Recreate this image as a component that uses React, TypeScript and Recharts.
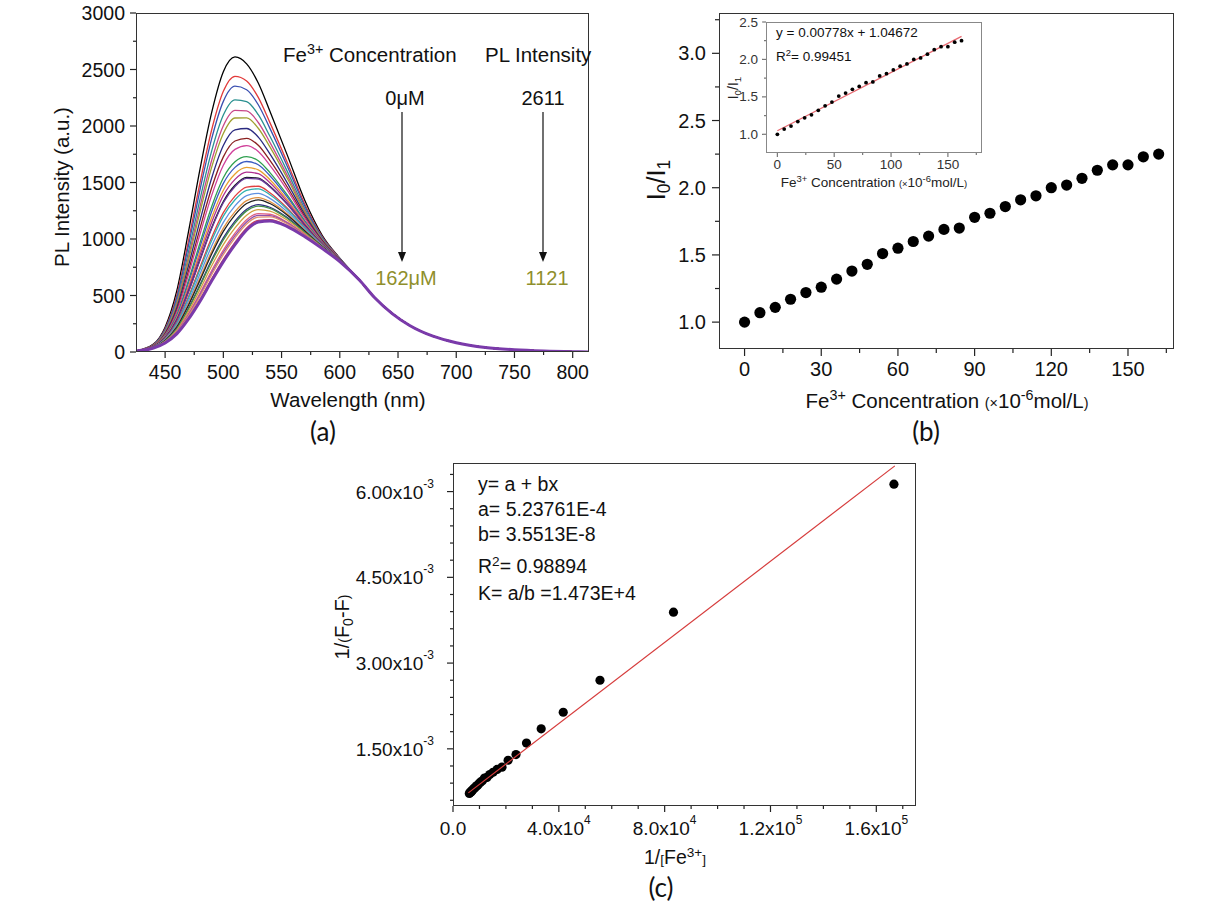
import React from 'react'
import { LineChart, Line, XAxis, YAxis, ScatterChart, Scatter } from 'recharts'

const FONT = '"Liberation Sans", Arial, sans-serif'
const PANEL_FONT = 'Lato, "Open Sans", sans-serif'
const INK = '#111'
const OLIVE = '#8f8f2c'

// (a) PL spectra: rising part read per curve, the shared tail after the crossing point
const wlHead = [425, 440, 450, 460, 470, 480, 490, 500, 510, 520, 530, 540, 555, 570, 585, 600]
const wlTail = [617, 630, 645, 660, 680, 700, 725, 750, 775, 800, 814]
const plTail = [635, 480, 340, 235, 140, 82, 40, 20, 9, 3, 1]

const uM0 = [10, 70, 220, 540, 1060, 1620, 2120, 2480, 2611, 2550, 2380, 2130, 1740, 1340, 1030, 830]
const uM6 = [10, 66, 206, 501, 981, 1500, 1967, 2307, 2440, 2399, 2253, 2030, 1675, 1307, 1018, 827]
const uM12 = [10, 65, 198, 481, 940, 1437, 1888, 2218, 2352, 2321, 2188, 1979, 1642, 1290, 1012, 825]
const uM18 = [10, 62, 188, 453, 884, 1353, 1780, 2097, 2232, 2215, 2100, 1909, 1596, 1267, 1004, 823]
const uM24 = [9, 60, 180, 432, 841, 1288, 1697, 2003, 2139, 2133, 2031, 1855, 1561, 1249, 997, 822]
const uM30 = [9, 59, 175, 417, 810, 1240, 1636, 1934, 2071, 2072, 1980, 1815, 1535, 1236, 993, 820]
const uM36 = [9, 56, 166, 392, 761, 1165, 1540, 1827, 1965, 1978, 1902, 1753, 1495, 1216, 985, 818]
const uM42 = [9, 54, 157, 370, 715, 1096, 1453, 1727, 1867, 1891, 1829, 1695, 1458, 1197, 979, 817]
const uM48 = [9, 53, 151, 353, 681, 1044, 1386, 1653, 1793, 1826, 1774, 1652, 1430, 1182, 973, 815]
const uM54 = [9, 50, 142, 328, 630, 967, 1288, 1542, 1683, 1729, 1693, 1588, 1388, 1161, 966, 813]
const uM60 = [9, 49, 138, 317, 607, 932, 1244, 1492, 1634, 1686, 1657, 1560, 1370, 1152, 962, 812]
const uM66 = [9, 48, 133, 303, 580, 890, 1190, 1432, 1575, 1633, 1612, 1525, 1347, 1140, 958, 811]
const uM72 = [9, 47, 129, 292, 558, 857, 1149, 1385, 1528, 1592, 1578, 1498, 1329, 1131, 955, 810]
const uM78 = [9, 46, 124, 280, 533, 820, 1101, 1331, 1475, 1545, 1539, 1467, 1309, 1121, 951, 810]
const uM84 = [9, 46, 123, 278, 529, 813, 1092, 1321, 1465, 1536, 1531, 1461, 1305, 1119, 951, 809]
const uM90 = [9, 44, 116, 258, 489, 752, 1014, 1233, 1379, 1459, 1467, 1410, 1273, 1103, 945, 808]
const uM96 = [8, 43, 113, 251, 474, 730, 986, 1202, 1347, 1431, 1444, 1392, 1261, 1097, 943, 807]
const uM102 = [8, 42, 109, 238, 449, 692, 938, 1147, 1293, 1384, 1404, 1360, 1240, 1086, 939, 806]
const uM108 = [8, 41, 105, 227, 426, 656, 892, 1096, 1242, 1339, 1367, 1331, 1221, 1076, 935, 805]
const uM114 = [8, 41, 102, 220, 412, 636, 867, 1067, 1214, 1314, 1346, 1314, 1210, 1071, 933, 805]
const uM120 = [8, 39, 98, 208, 386, 596, 816, 1010, 1158, 1264, 1304, 1281, 1189, 1060, 929, 804]
const uM126 = [8, 39, 96, 204, 379, 585, 801, 993, 1141, 1249, 1291, 1272, 1182, 1057, 928, 803]
const uM132 = [8, 38, 92, 194, 359, 554, 763, 950, 1098, 1211, 1260, 1246, 1166, 1049, 925, 803]
const uM138 = [8, 37, 89, 183, 337, 521, 721, 902, 1051, 1170, 1225, 1219, 1148, 1040, 922, 802]
const uM144 = [8, 37, 87, 178, 327, 506, 702, 881, 1030, 1151, 1209, 1207, 1140, 1035, 921, 801]
const uM150 = [8, 36, 85, 174, 318, 492, 684, 861, 1010, 1133, 1194, 1195, 1133, 1032, 919, 801]
const uM156 = [8, 35, 82, 165, 299, 464, 648, 820, 970, 1098, 1165, 1172, 1118, 1024, 916, 800]
const uM162 = [8, 35, 80, 160, 290, 450, 630, 800, 950, 1080, 1150, 1160, 1110, 1020, 915, 800]

const spectra = [
  uM0, uM6, uM12, uM18, uM24, uM30, uM36, uM42, uM48, uM54, uM60, uM66, uM72, uM78,
  uM84, uM90, uM96, uM102, uM108, uM114, uM120, uM126, uM132, uM138, uM144, uM150, uM156, uM162
]
const specColors = [
  '#000000', '#e23a3a', '#3a4fb0', '#2a9090', '#c8488a', '#a0a030', '#2a2a80', '#8a2020',
  '#d0409a', '#30a050', '#3b5bc0', '#e8a030', '#b03090', '#1a1a2a', '#6a3a9a', '#e04040',
  '#30b0b0', '#6090e0', '#e09040', '#202020', '#303080', '#40904a', '#d0a040', '#e06080',
  '#9050b0', '#e09070', '#d04050', '#7a3aaa'
]

const aXTicks = [450, 475, 500, 525, 550, 575, 600, 625, 650, 675, 700, 725, 750, 775, 800]
const aXMajor = [450, 500, 550, 600, 650, 700, 750, 800]
const aYTicks = [0, 250, 500, 750, 1000, 1250, 1500, 1750, 2000, 2250, 2500, 2750, 3000]
const aYMajor = [0, 500, 1000, 1500, 2000, 2500, 3000]

// (b) I0/I1 against Fe3+ concentration
const concB = [0, 6, 12, 18, 24, 30, 36, 42, 48, 54, 60, 66, 72, 78, 84, 90, 96, 102, 108, 114, 120, 126, 132, 138, 144, 150, 156, 162]
const ratioB = [1.0, 1.07, 1.11, 1.17, 1.22, 1.26, 1.32, 1.38, 1.43, 1.51, 1.55, 1.6, 1.64, 1.69, 1.7, 1.78, 1.81, 1.86, 1.91, 1.94, 2.0, 2.02, 2.07, 2.13, 2.17, 2.17, 2.23, 2.25]
const fitBx = [0, 162]
const fitBy = [1.047, 2.307]

const bXTicks = [0, 15, 30, 45, 60, 75, 90, 105, 120, 135, 150, 165]
const bXMajor = [0, 30, 60, 90, 120, 150]
const bYTicks = [1.0, 1.25, 1.5, 1.75, 2.0, 2.25, 2.5, 2.75, 3.0, 3.25]
const bYMajor = [1.0, 1.5, 2.0, 2.5, 3.0]
const insXTicks = [0, 25, 50, 75, 100, 125, 150, 175]
const insXMajor = [0, 50, 100, 150]
const insYTicks = [1.0, 1.25, 1.5, 1.75, 2.0, 2.25, 2.5]
const insYMajor = [1.0, 1.5, 2.0, 2.5]

// (c) double reciprocal plot
const invConcC = [166667, 83333, 55556, 41667, 33333, 27778, 23810, 20833, 18519, 16667, 15152, 13889, 12821, 11905, 11111, 10417, 9804, 9259, 8772, 8333, 7937, 7576, 7246, 6944, 6667, 6410, 6173]
const invDiffC = [6.13e-3, 3.89e-3, 2.7e-3, 2.14e-3, 1.85e-3, 1.6e-3, 1.4e-3, 1.3e-3, 1.18e-3, 1.14e-3, 1.09e-3, 1.05e-3, 1.0e-3, 0.99e-3, 0.94e-3, 0.92e-3, 0.89e-3, 0.86e-3, 0.85e-3, 0.82e-3, 0.81e-3, 0.79e-3, 0.77e-3, 0.75e-3, 0.75e-3, 0.73e-3, 0.72e-3]
const fitCx = [5800, 167000]
const fitCy = [7.3e-4, 6.45e-3]

const cXTicks = [0, 10000, 20000, 30000, 40000, 50000, 60000, 70000, 80000, 90000, 100000, 110000, 120000, 130000, 140000, 150000, 160000, 170000]
const cXMajor = [0, 40000, 80000, 120000, 160000]
const cXText = ['0.0', '4.0x10', '8.0x10', '1.2x10', '1.6x10']
const cXExp = ['', '4', '4', '5', '5']
const cYTicks = [0.6e-3, 0.9e-3, 1.2e-3, 1.5e-3, 1.8e-3, 2.1e-3, 2.4e-3, 2.7e-3, 3.0e-3, 3.3e-3, 3.6e-3, 3.9e-3, 4.2e-3, 4.5e-3, 4.8e-3, 5.1e-3, 5.4e-3, 5.7e-3, 6.0e-3, 6.3e-3]
const cYMajor = [1.5e-3, 3.0e-3, 4.5e-3, 6.0e-3]
const cYText = ['1.50x10', '3.00x10', '4.50x10', '6.00x10']

const specRows = [
  ...wlHead.map((wl, j) => {
    const row: Record<string, number> = { wl }
    spectra.forEach((s, i) => (row['c' + i] = s[j]))
    return row
  }),
  ...wlTail.map((wl, j) => {
    const row: Record<string, number> = { wl }
    spectra.forEach((_, i) => (row['c' + i] = plTail[j]))
    return row
  })
]
const pointsB = concB.map((x, i) => ({ x, y: ratioB[i] }))
const fitB = fitBx.map((x, i) => ({ x, y: fitBy[i] }))
const pointsC = invConcC.map((x, i) => ({ x, y: invDiffC[i] }))
const fitC = fitCx.map((x, i) => ({ x, y: fitCy[i] }))

const idxOf = (v: number, list: number[]) => list.findIndex((m) => Math.abs(m - v) < 1e-9)

type TickOpts = {
  majors: number[]
  len: number
  minor: number
  gap: number
  size: number
  label: (v: number, i: number) => React.ReactNode
  color?: string
  stroke?: string
}

function bottomTick(o: TickOpts) {
  return (p: any) => {
    const v = p.payload.value
    const i = idxOf(v, o.majors)
    return (
      <g>
        <line x1={p.x} x2={p.x} y1={p.y} y2={p.y + (i >= 0 ? o.len : o.minor)} stroke={o.stroke ?? '#222'} strokeWidth={1.2} />
        {i >= 0 && (
          <text x={p.x} y={p.y + o.gap} textAnchor="middle" dominantBaseline="central" fontSize={o.size} fontFamily={FONT} fill={o.color ?? INK}>
            {o.label(v, i)}
          </text>
        )}
      </g>
    )
  }
}

function leftTick(o: TickOpts) {
  return (p: any) => {
    const v = p.payload.value
    const i = idxOf(v, o.majors)
    return (
      <g>
        <line x1={p.x - (i >= 0 ? o.len : o.minor)} x2={p.x} y1={p.y} y2={p.y} stroke={o.stroke ?? '#222'} strokeWidth={1.2} />
        {i >= 0 && (
          <text x={p.x - o.gap} y={p.y} textAnchor="end" dominantBaseline="central" fontSize={o.size} fontFamily={FONT} fill={o.color ?? INK}>
            {o.label(v, i)}
          </text>
        )}
      </g>
    )
  }
}

const Sup = ({ children }: { children: React.ReactNode }) => (
  <span style={{ fontSize: '0.7em', position: 'relative', top: '-0.55em' }}>{children}</span>
)
const Sub = ({ children }: { children: React.ReactNode }) => (
  <span style={{ fontSize: '0.7em', position: 'relative', top: '0.3em' }}>{children}</span>
)
const Small = ({ children }: { children: React.ReactNode }) => <span style={{ fontSize: '0.7em' }}>{children}</span>

function Txt(props: {
  x: number
  y: number
  size?: number
  anchor?: 'start' | 'middle' | 'end'
  rotate?: boolean
  color?: string
  family?: string
  children: React.ReactNode
}) {
  const { x, y, size = 20, anchor = 'start', rotate = false, color = INK, family = FONT, children } = props
  const tx = rotate || anchor === 'middle' ? '-50%' : anchor === 'end' ? '-100%' : '0'
  return (
    <div
      style={{
        position: 'absolute',
        left: x,
        top: y,
        transform: `translate(${tx}, -50%)${rotate ? ' rotate(-90deg)' : ''}`,
        fontSize: size,
        fontFamily: family,
        color,
        whiteSpace: 'nowrap',
        lineHeight: 1
      }}
    >
      {children}
    </div>
  )
}

const Frame = ({ x, y, w, h, color = '#333' }: { x: number; y: number; w: number; h: number; color?: string }) => (
  <div style={{ position: 'absolute', left: x, top: y, width: w, height: h, border: `1.3px solid ${color}`, boxSizing: 'border-box' }} />
)

const axisBase = { axisLine: false, tickLine: false, tickSize: 0, tickMargin: 0, interval: 0 as const, allowDataOverflow: true, type: 'number' as const }

export default function App() {
  return (
    <div style={{ position: 'absolute', left: 0, top: 0, width: 1210, height: 908, background: '#fff', overflow: 'hidden' }}>
      {/* (a) */}
      <div style={{ position: 'absolute', left: 0, top: 0 }}>
        <LineChart width={600} height={420} data={specRows} margin={{ top: 13, right: 11, bottom: 0, left: 0 }}>
          <XAxis
            {...axisBase}
            dataKey="wl"
            domain={[425, 814]}
            ticks={aXTicks}
            height={68}
            tick={bottomTick({ majors: aXMajor, len: 6, minor: 3, gap: 20, size: 19.5, label: (v) => String(v) })}
          />
          <YAxis
            {...axisBase}
            domain={[0, 3000]}
            ticks={aYTicks}
            width={136}
            tick={leftTick({ majors: aYMajor, len: 6, minor: 3, gap: 11, size: 19.5, label: (v) => String(v) })}
          />
          {spectra.map((_, i) => (
            <Line
              key={i}
              dataKey={'c' + i}
              type="monotone"
              stroke={specColors[i]}
              strokeWidth={i === spectra.length - 1 ? 3 : 1.3}
              dot={false}
              activeDot={false}
              isAnimationActive={false}
            />
          ))}
        </LineChart>
      </div>
      <Frame x={136} y={13} w={453} h={339} />

      {/* (b) */}
      <div style={{ position: 'absolute', left: 600, top: 0 }}>
        <ScatterChart width={610} height={420} margin={{ top: 13, right: 36, bottom: 0, left: 0 }}>
          <XAxis
            {...axisBase}
            dataKey="x"
            domain={[-10, 168]}
            ticks={bXTicks}
            height={71}
            tick={bottomTick({ majors: bXMajor, len: 7, minor: 4, gap: 20, size: 20, label: (v) => String(v) })}
          />
          <YAxis
            {...axisBase}
            dataKey="y"
            domain={[0.8, 3.3]}
            ticks={bYTicks}
            width={119}
            tick={leftTick({ majors: bYMajor, len: 7, minor: 4, gap: 13, size: 20, label: (v) => v.toFixed(1) })}
          />
          <Scatter
            data={pointsB}
            isAnimationActive={false}
            shape={(p: any) => <circle cx={p.cx} cy={p.cy} r={5.6} fill="#000" />}
          />
        </ScatterChart>
      </div>
      <Frame x={719} y={13} w={455} h={336} />

      {/* inset of (b) */}
      <div style={{ position: 'absolute', left: 700, top: 0 }}>
        <ScatterChart width={300} height={200} margin={{ top: 22, right: 18, bottom: 0, left: 0 }}>
          <XAxis
            {...axisBase}
            dataKey="x"
            domain={[-10, 180]}
            ticks={insXTicks}
            height={47}
            tick={bottomTick({ majors: insXMajor, len: 4, minor: 2, gap: 11, size: 13.5, color: '#333', stroke: '#777', label: (v) => String(v) })}
          />
          <YAxis
            {...axisBase}
            dataKey="y"
            domain={[0.75, 2.5]}
            ticks={insYTicks}
            width={66}
            tick={leftTick({ majors: insYMajor, len: 4, minor: 2, gap: 8, size: 13.5, color: '#333', stroke: '#777', label: (v) => v.toFixed(1) })}
          />
          <Scatter data={fitB} isAnimationActive={false} line={{ stroke: '#e86a72', strokeWidth: 1.3 }} shape={() => <g />} />
          <Scatter
            data={pointsB}
            isAnimationActive={false}
            shape={(p: any) => <circle cx={p.cx} cy={p.cy} r={1.9} fill="#000" />}
          />
        </ScatterChart>
      </div>
      <Frame x={766} y={22} w={216} h={131} color="#888" />

      {/* (c) */}
      <div style={{ position: 'absolute', left: 330, top: 440 }}>
        <ScatterChart width={600} height={468} margin={{ top: 23, right: 14, bottom: 0, left: 0 }}>
          <XAxis
            {...axisBase}
            dataKey="x"
            domain={[0, 175000]}
            ticks={cXTicks}
            height={102}
            tick={bottomTick({
              majors: cXMajor,
              len: 6,
              minor: 3,
              gap: 22,
              size: 19,
              label: (_v, i) => (
                <>
                  <tspan>{cXText[i]}</tspan>
                  {cXExp[i] && (
                    <tspan dy={-8} fontSize={12}>
                      {cXExp[i]}
                    </tspan>
                  )}
                </>
              )
            })}
          />
          <YAxis
            {...axisBase}
            dataKey="y"
            domain={[0.5e-3, 6.5e-3]}
            ticks={cYTicks}
            width={123}
            tick={leftTick({
              majors: cYMajor,
              len: 6,
              minor: 3,
              gap: 19,
              size: 19,
              label: (_v, i) => (
                <>
                  <tspan>{cYText[i]}</tspan>
                  <tspan dy={-8} fontSize={12}>
                    -3
                  </tspan>
                </>
              )
            })}
          />
          <Scatter
            data={pointsC}
            isAnimationActive={false}
            shape={(p: any) => <circle cx={p.cx} cy={p.cy} r={4.6} fill="#000" />}
          />
          <Scatter data={fitC} isAnimationActive={false} line={{ stroke: '#d63c3c', strokeWidth: 1.2 }} shape={() => <g />} />
        </ScatterChart>
      </div>
      <Frame x={453} y={463} w={463} h={343} />

      {/* arrows in (a) */}
      <svg style={{ position: 'absolute', left: 0, top: 0 }} width={1210} height={450}>
        <line x1={402} x2={402} y1={112} y2={255} stroke="#111" strokeWidth={1.2} />
        <polygon points="398,252 406,252 402,262" fill="#111" />
        <line x1={543} x2={543} y1={112} y2={255} stroke="#111" strokeWidth={1.2} />
        <polygon points="539,252 547,252 543,262" fill="#111" />
      </svg>

      {/* (a) texts */}
      <Txt x={62} y={187} rotate size={20.5}>PL Intensity (a.u.)</Txt>
      <Txt x={348} y={400} anchor="middle" size={20.5}>Wavelength (nm)</Txt>
      <Txt x={323} y={431} anchor="middle" size={26} family={PANEL_FONT}>(a)</Txt>
      <Txt x={283} y={55} size={20.5}>
        Fe<Sup>3+</Sup> Concentration
      </Txt>
      <Txt x={485} y={55} size={20.5}>PL Intensity</Txt>
      <Txt x={405} y={98} anchor="middle">0μM</Txt>
      <Txt x={543} y={98} anchor="middle">2611</Txt>
      <Txt x={406} y={278} anchor="middle" color={OLIVE}>162μM</Txt>
      <Txt x={547} y={278} anchor="middle" color={OLIVE}>1121</Txt>

      {/* (b) texts */}
      <Txt x={656} y={180} rotate size={25}>
        I<Sub>0</Sub>/I<Sub>1</Sub>
      </Txt>
      <Txt x={947} y={401} anchor="middle" size={20.5}>
        Fe<Sup>3+</Sup> Concentration <Small>(×</Small>10<Sup>-6</Sup>mol/L<Small>)</Small>
      </Txt>
      <Txt x={926} y={431} anchor="middle" size={26} family={PANEL_FONT}>(b)</Txt>
      <Txt x={776} y={33} size={13.5}>y = 0.00778x + 1.04672</Txt>
      <Txt x={776} y={57} size={13.5}>
        R<Sup>2</Sup>= 0.99451
      </Txt>
      <Txt x={733} y={88} rotate size={14} color="#222">
        I<Sub>0</Sub>/I<Sub>1</Sub>
      </Txt>
      <Txt x={874} y={183} anchor="middle" size={13.5} color="#222">
        Fe<Sup>3+</Sup> Concentration <Small>(×</Small>10<Sup>-6</Sup>mol/L<Small>)</Small>
      </Txt>

      {/* (c) texts */}
      <Txt x={342} y={627} rotate size={20}>
        1/<Small>(</Small>F<Sub>0</Sub>-F<Small>)</Small>
      </Txt>
      <Txt x={675} y={858} anchor="middle" size={19.5}>
        1/<Small>[</Small>Fe<Sup>3+</Sup>
        <Small>]</Small>
      </Txt>
      <Txt x={661} y={887} anchor="middle" size={26} family={PANEL_FONT}>(c)</Txt>
      <Txt x={478} y={485} size={19.5}>y= a + bx</Txt>
      <Txt x={478} y={510} size={19.5}>a= 5.23761E-4</Txt>
      <Txt x={478} y={535} size={19.5}>b= 3.5513E-8</Txt>
      <Txt x={478} y={567} size={19.5}>
        R<Sup>2</Sup>= 0.98894
      </Txt>
      <Txt x={478} y={594} size={19.5}>K= a/b =1.473E+4</Txt>
    </div>
  )
}
